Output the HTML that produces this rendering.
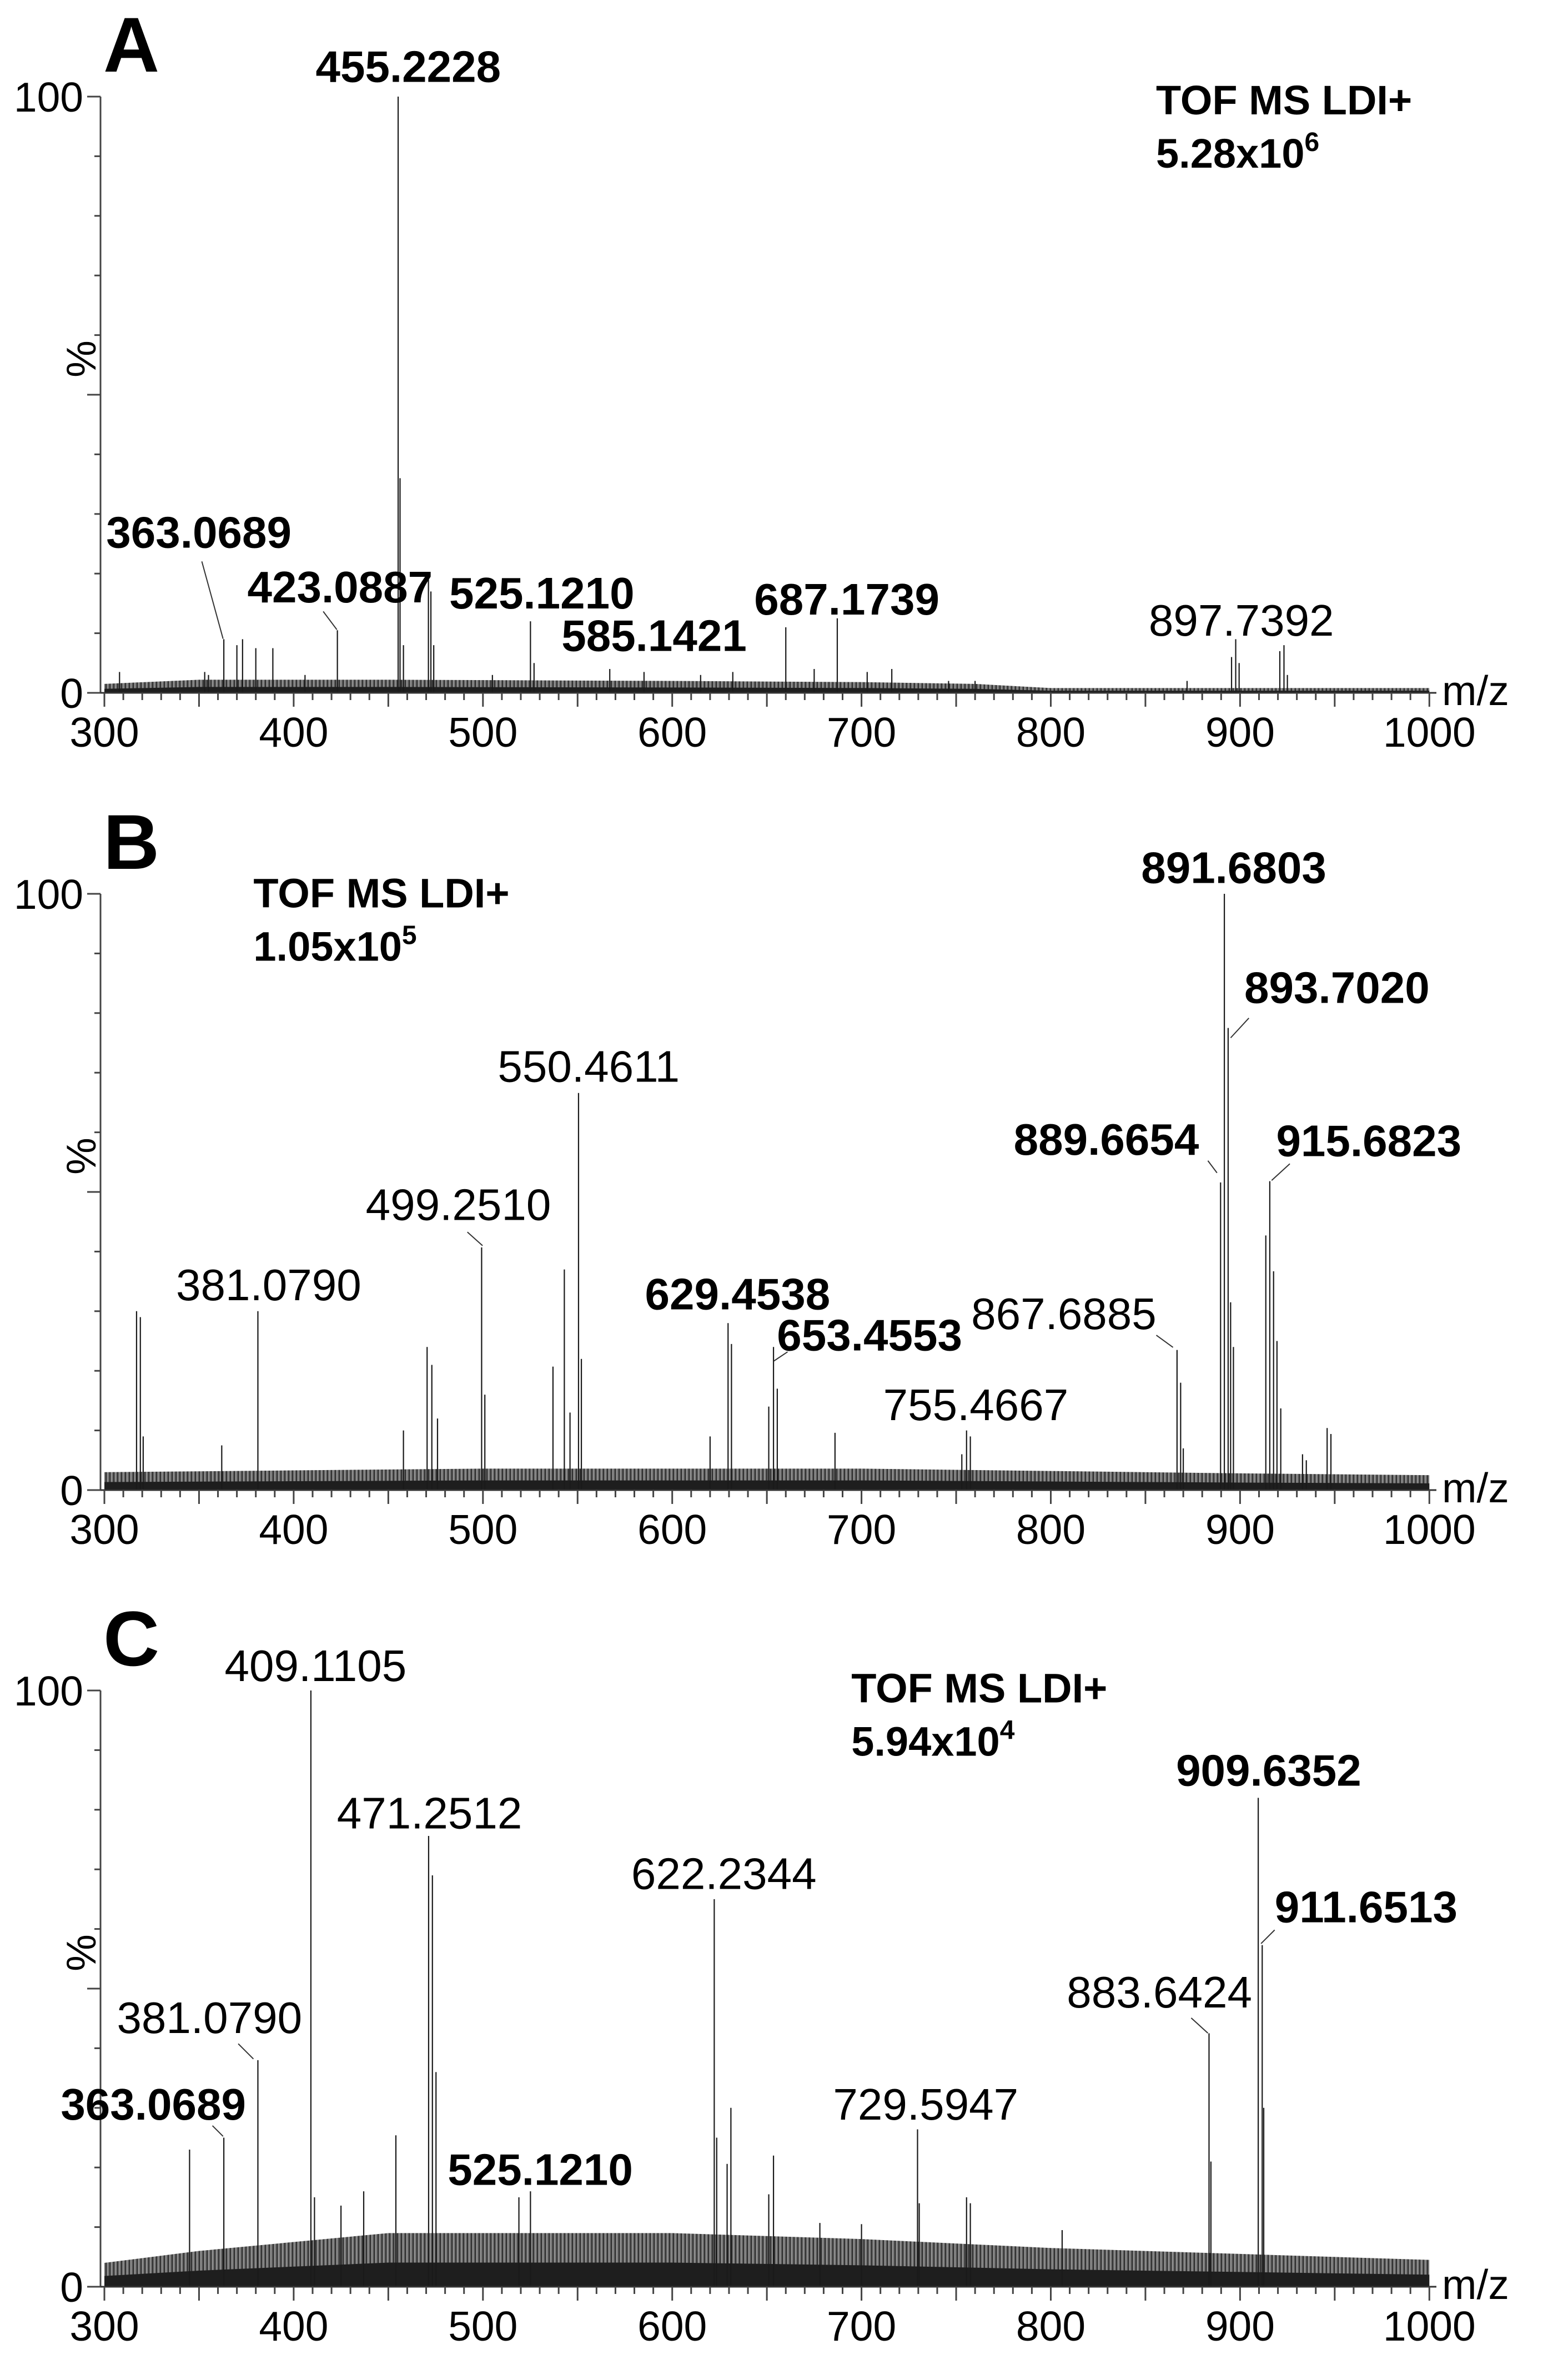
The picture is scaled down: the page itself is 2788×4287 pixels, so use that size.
<!DOCTYPE html>
<html><head><meta charset="utf-8"><style>
html,body{margin:0;padding:0;background:#fff;}
svg{display:block;font-family:"Liberation Sans",Arial,sans-serif;}
</style></head><body>
<svg id="fig" xmlns="http://www.w3.org/2000/svg" width="2788" height="4287" viewBox="0 0 2788 4287">
<defs>
<pattern id="hatch" patternUnits="userSpaceOnUse" width="7" height="40"><rect width="7" height="40" fill="#6a6a6a"/><line x1="2" y1="0" x2="2" y2="40" stroke="#303030" stroke-width="2"/><line x1="5" y1="0" x2="5" y2="40" stroke="#9a9a9a" stroke-width="1.5"/></pattern>
</defs>
</svg>
<script>
// ---------- Panel A data ----------
const aPeakMz  = [455.2, 456.2, 471.2, 472.5, 474, 363.1, 370, 373, 380, 389, 423.1, 525.1, 527, 585.1, 567, 632, 660, 687.2, 675, 703, 716, 897.7, 895.5, 899.5, 921, 923.2, 925, 308, 353, 406, 505, 615, 746, 760, 872, 355, 458];
const aPeakInt = [100, 36, 19, 17, 8, 9, 8, 9, 7.5, 7.5, 10.5, 12, 5, 3.5, 4, 3.5, 11, 12.5, 4, 3.5, 4, 9, 6, 5, 7, 8, 3, 3.5, 3.5, 3, 3, 3, 2, 2, 2, 3, 8];
const aNoiseMz  = [300, 350, 450, 600, 700, 760, 800, 1000];
const aNoiseInt = [1.5, 2.2, 2.2, 2, 1.8, 1.5, 0.8, 0.8];
// ---------- Panel B data ----------
const bPeakMz  = [891.7, 893.7, 889.7, 895, 896.5, 913.6, 915.7, 917.7, 919.5, 921.5, 866.7, 868.6, 870, 550.5, 552, 543, 546, 537, 499.3, 501, 381.1, 317, 319, 320.5, 362, 470.5, 473, 476, 458, 629.5, 631.3, 651, 653.5, 655.5, 620, 686, 755.5, 757.5, 753, 946, 948, 933, 935];
const bPeakInt = [100, 77.5, 51.6, 31.5, 24, 42.7, 51.8, 36.7, 25, 13.7, 23.5, 18, 7, 66.6, 22, 37, 13, 20.7, 40.7, 16, 30, 30, 29, 9, 7.5, 24, 21, 12, 10, 28, 24.5, 14, 24, 17, 9, 9.6, 10, 9, 6, 10.4, 9.4, 6, 5];
const bNoiseMz  = [300, 400, 500, 700, 800, 900, 1000];
const bNoiseInt = [3, 3.3, 3.6, 3.6, 3.2, 2.8, 2.5];
// ---------- Panel C data ----------
const cPeakMz  = [409.1, 411, 471.3, 473.3, 475.2, 381.1, 363.1, 345, 454, 525.1, 519, 437, 425, 622.2, 623.5, 631, 629, 651, 653.5, 729.6, 730.5, 755.5, 757.5, 909.6, 911.7, 912.5, 883.6, 884.6, 678, 700, 806];
const cPeakInt = [100, 15, 75.6, 69, 36, 38, 25, 23, 25.4, 16, 15, 16, 13.6, 65, 25, 30, 20.6, 15.5, 22, 26.4, 14, 15, 14, 82, 57.3, 30, 42.5, 21, 10.7, 10.5, 9.5];
const cNoiseMz  = [300, 350, 450, 600, 700, 800, 900, 1000];
const cNoiseInt = [4, 6, 9, 9, 8, 6.5, 5.5, 4.5];
// ---------- axis tick labels ----------
const xTickLabels = [300, 400, 500, 600, 700, 800, 900, 1000];
const yTickLabels = [0, 100];
</script>
<script>
const NS = "http://www.w3.org/2000/svg";
const svg = document.getElementById('fig');
const X0 = 188, PX_PER_MZ = 3.409, AXIS_X = 181, AXIS_END = 2587, H = 1074;
function xPx(mz){ return X0 + (mz - 300) * PX_PER_MZ; }
function mk(tag, attrs, parent){
  const e = document.createElementNS(NS, tag);
  for (const k in attrs) e.setAttribute(k, attrs[k]);
  (parent || svg).appendChild(e);
  return e;
}
function txt(g, s, x, y, size, bold, anchor){
  const t = mk('text', {x:x, y:y, 'font-size':size, 'font-weight':bold?'bold':'normal', 'text-anchor':anchor||'start', fill:'#000'}, g);
  t.textContent = s;
  return t;
}

function drawPanel(id, base, peakMz, peakInt, noiseMz, noiseInt, letter, info, infoX, infoY, labels){
  const yPx = v => base - v / 100 * H;
  const g = mk('g', {});
  
  

  let pts = [];
  for (let i = 0; i < noiseMz.length; i++) pts.push(xPx(noiseMz[i]) + ',' + yPx(noiseInt[i]));
  const band = mk('polygon', {points: xPx(noiseMz[0]) + ',' + base + ' ' + pts.join(' ') + ' ' + xPx(noiseMz[noiseMz.length-1]) + ',' + base, fill:'url(#hatch)'}, g);
  
  
  let pts2 = [];
  for (let i = 0; i < noiseMz.length; i++) pts2.push(xPx(noiseMz[i]) + ',' + yPx(noiseInt[i] * 0.45));
  const band2 = mk('polygon', {points: xPx(noiseMz[0]) + ',' + base + ' ' + pts2.join(' ') + ' ' + xPx(noiseMz[noiseMz.length-1]) + ',' + base, fill:'#1e1e1e'}, g);
  
  

  for (let i = 0; i < peakMz.length; i++){
    const l = mk('line', {x1:xPx(peakMz[i]), x2:xPx(peakMz[i]), y1:base, y2:yPx(peakInt[i]), stroke:'#1a1a1a', 'stroke-width':2.2}, g);
    
    
  }

  const ya = mk('line', {x1:AXIS_X, x2:AXIS_X, y1:yPx(100), y2:base, stroke:'#444', 'stroke-width':3}, g);
  
  
  const xa = mk('line', {x1:AXIS_X, x2:AXIS_END, y1:base, y2:base, stroke:'#333', 'stroke-width':3}, g);
  
  
  for (let v = 0; v <= 100; v += 10){
    const major = (v % 50 === 0);
    mk('line', {x1:AXIS_X - (major ? 24 : 11), x2:AXIS_X, y1:yPx(v), y2:yPx(v), stroke:'#444', 'stroke-width':3}, g);
  }
  for (let m = 300; m <= 1000; m += 10){
    const major = (m % 50 === 0);
    mk('line', {x1:xPx(m), x2:xPx(m), y1:base, y2:base + (major ? 25 : 13), stroke:'#444', 'stroke-width':3}, g);
  }
  for (const v of xTickLabels){
    const t = txt(g, String(v), xPx(v), base + 97, 75, false, 'middle');
    
    
  }
  for (const v of yTickLabels){
    const t = txt(g, String(v), 150, yPx(v) + 27, 75, false, 'end');
    
    
  }
  const pc = txt(g, '%', 0, 0, 75, false, 'middle');
  pc.setAttribute('transform', 'translate(172,' + (yPx(56)) + ') rotate(-90)');
  
  
  const mz = txt(g, 'm/z', 2597, base + 22, 75, false, 'start');
  
  

  const L = txt(g, letter, 186, yPx(100) - 45, 140, true);
  
  

  const i1 = txt(g, 'TOF MS LDI+', infoX, infoY, 74, true);
  
  
  const i2 = mk('text', {x:infoX, y:infoY + 96, 'font-size':74, 'font-weight':'bold'}, g);
  
  
  i2.appendChild(document.createTextNode(info[0] + 'x10'));
  const sup = mk('tspan', {dy:-30, 'font-size':48}, i2);
  sup.textContent = info[1];

  for (const lb of labels){
    const t = txt(g, lb[0], lb[2], lb[3], 80, lb[1]);
    
    
    if (lb[4]){
      const ld = mk('polyline', {points: lb[4].map(p => p[0] + ',' + p[1]).join(' '), fill:'none', stroke:'#333', 'stroke-width':2}, g);
      
      
    }
  }
}

const S = 2.733;
function P(x, y){ return [x * S, y * S]; }

drawPanel('a', 1248, aPeakMz, aPeakInt, aNoiseMz, aNoiseInt, 'A', ['5.28', '6'], 2082, 206, [
  ['455.2228', true, 208*S, 54*S],
  ['363.0689', true, 70*S, 361*S, [P(133,370), P(147,421)]],
  ['423.0887', true, 163*S, 397*S, [P(213,403), P(222,415)]],
  ['525.1210', true, 296*S, 401*S],
  ['585.1421', true, 370*S, 429*S],
  ['687.1739', true, 497*S, 405*S],
  ['897.7392', false, 757*S, 419*S]
]);
drawPanel('b', 2684, bPeakMz, bPeakInt, bNoiseMz, bNoiseInt, 'B', ['1.05', '5'], 167*S, 598*S, [
  ['891.6803', true, 752*S, 582*S],
  ['893.7020', true, 820*S, 661*S, [P(823,671), P(811,684)]],
  ['889.6654', true, 668*S, 761*S, [P(796,765), P(802,773)]],
  ['915.6823', true, 841*S, 762*S, [P(850,767), P(838,778)]],
  ['550.4611', false, 328*S, 713*S],
  ['499.2510', false, 241*S, 804*S, [P(308,812), P(318,821)]],
  ['381.0790', false, 116*S, 857*S],
  ['629.4538', true, 425*S, 863*S],
  ['653.4553', true, 512*S, 890*S, [P(519,891), P(510,897)]],
  ['867.6885', false, 640*S, 876*S, [P(762,880), P(773,888)]],
  ['755.4667', false, 582*S, 936*S]
]);
drawPanel('c', 4119, cPeakMz, cPeakInt, cNoiseMz, cNoiseInt, 'C', ['5.94', '4'], 561*S, 1122*S, [
  ['409.1105', false, 148*S, 1108*S],
  ['471.2512', false, 222*S, 1205*S],
  ['622.2344', false, 416*S, 1245*S],
  ['381.0790', false, 77*S, 1340*S, [P(157,1347), P(167,1357)]],
  ['363.0689', true, 40*S, 1397*S, [P(140,1401), P(147,1408)]],
  ['525.1210', true, 295*S, 1440*S],
  ['729.5947', false, 549*S, 1397*S],
  ['883.6424', false, 703*S, 1323*S, [P(785,1330), P(796,1340)]],
  ['909.6352', true, 775*S, 1177*S],
  ['911.6513', true, 840*S, 1267*S, [P(840,1272), P(831,1281)]]
]);
</script>
</body></html>
